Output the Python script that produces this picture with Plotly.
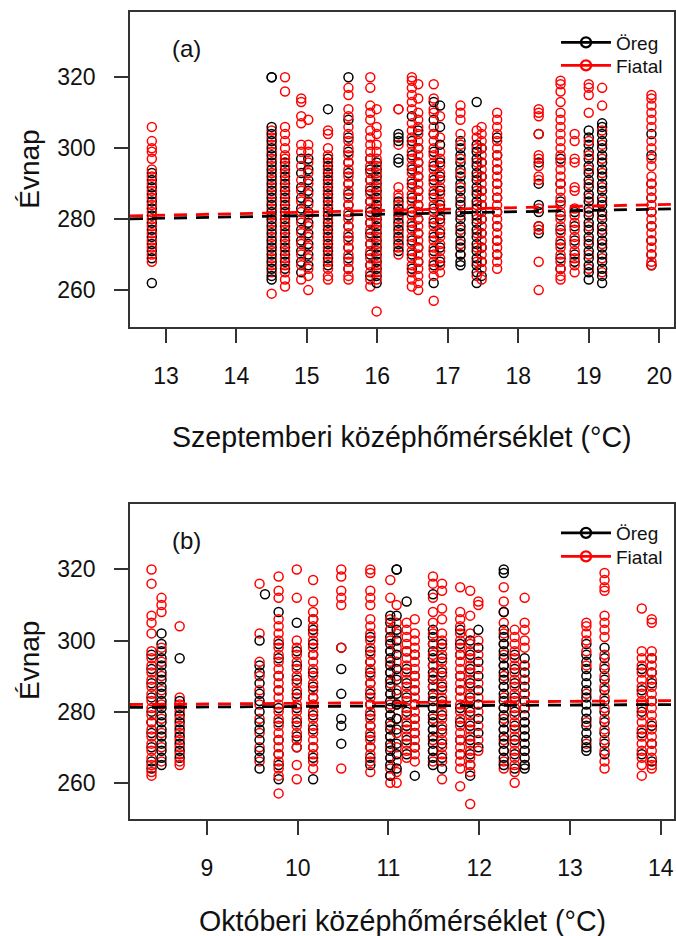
import plotly.graph_objects as go

# ---------------- DATA ----------------
# Panel (a): September mean temperature columns
A_X = [12.80, 14.50, 14.69, 14.92, 15.02, 15.30, 15.59, 15.90, 15.99, 16.30,
       16.49, 16.58, 16.80, 16.89, 17.18, 17.41, 17.48, 17.70, 18.29, 18.60,
       18.80, 19.00, 19.19, 19.89]
A_OREG = [
    [293, 291, 289, 287, 285, 283, 281, 279, 277, 275, 273, 271, 269, 262],
    [320, 320, 306, 304, 302, 300, 298, 296, 294, 292, 290, 288, 286, 284, 282, 280, 278, 276, 274, 272, 270, 268, 266, 264, 263],
    [296, 294, 292, 290, 288, 286, 284, 282, 280, 278, 276, 274, 272, 270, 268, 266],
    [297, 293, 289, 286, 283, 280, 277, 274, 271, 268, 265],
    [297, 294, 291, 288, 285, 282, 279, 276, 273, 270, 267],
    [311, 297, 295, 293, 291, 289, 287, 285, 283, 281, 279, 277, 275, 273, 271, 269, 267],
    [320, 308, 303, 299, 296, 293, 290, 287, 284, 281, 278, 275, 272, 269, 266],
    [297, 294, 291, 288, 285, 282, 279, 276, 273, 270, 267, 264],
    [296, 294, 292, 290, 288, 286, 284, 282, 280, 278, 276, 274, 272, 270, 268, 266, 264, 262],
    [304, 303, 302, 297, 296, 285, 283, 281, 279, 277, 275, 273, 271],
    [309, 302, 298, 294, 290, 286, 282, 278, 274, 270, 266],
    [305, 300, 296, 292, 288, 284, 280, 276, 272, 268],
    [313, 308, 304, 299, 295, 291, 287, 283, 279, 275, 271, 267, 262],
    [312, 306, 301, 296, 292, 288, 284, 280, 276, 272, 268],
    [302, 300, 298, 296, 294, 292, 290, 288, 286, 284, 282, 280, 278, 276, 274, 272, 270, 268, 267],
    [313, 301, 299, 297, 295, 293, 291, 289, 287, 285, 283, 281, 279, 277, 275, 273, 271, 269, 267, 265, 262],
    [300, 296, 292, 288, 284, 280, 276, 272, 268, 264],
    [303, 298, 294, 290, 286, 282, 278, 274, 270],
    [304, 296, 290, 284, 282, 278, 276],
    [297, 290, 285, 281, 277, 273, 269, 266],
    [282, 278, 274, 270, 268],
    [305, 303, 301, 299, 297, 295, 293, 291, 289, 287, 285, 283, 281, 279, 277, 275, 273, 271, 269, 267, 265, 263],
    [307, 306, 304, 302, 300, 298, 296, 294, 292, 290, 288, 286, 284, 282, 280, 278, 276, 274, 272, 270, 268, 266, 264, 262],
    [304, 298, 290, 286, 282, 278, 274, 270, 267],
]
A_FIATAL = [
    [306, 302, 300, 299, 297, 294, 292, 290, 288, 286, 284, 282, 280, 278, 276, 274, 272, 270, 268],
    [305, 303, 301, 299, 297, 295, 293, 291, 289, 287, 285, 283, 281, 279, 277, 275, 273, 271, 269, 267, 265, 259],
    [320, 316, 306, 304, 302, 300, 298, 297, 295, 293, 291, 289, 287, 285, 283, 281, 279, 277, 275, 273, 271, 269, 267, 265, 263, 261],
    [314, 313, 309, 307, 301, 299, 295, 291, 288, 285, 282, 279, 276, 273, 270, 267, 263],
    [308, 301, 299, 296, 293, 290, 287, 284, 281, 278, 275, 272, 269, 266, 264, 260],
    [305, 304, 300, 298, 296, 294, 292, 290, 288, 286, 284, 282, 280, 278, 276, 274, 272, 270, 268, 266, 264, 263],
    [317, 315, 311, 309, 306, 304, 302, 300, 298, 296, 294, 292, 290, 288, 286, 284, 282, 280, 278, 276, 274, 272, 270, 268, 266, 264, 263],
    [320, 317, 312, 310, 308, 305, 303, 301, 299, 297, 295, 293, 291, 289, 287, 285, 283, 281, 279, 277, 275, 273, 271, 269, 267, 265, 263, 261],
    [311, 306, 304, 301, 299, 297, 295, 293, 291, 289, 287, 285, 283, 281, 279, 277, 275, 273, 271, 269, 267, 265, 263, 254],
    [311, 311, 301, 289, 287, 286, 284, 282, 280, 278, 276, 274, 272, 270],
    [320, 319, 317, 315, 313, 311, 307, 305, 303, 301, 299, 297, 295, 293, 291, 289, 287, 285, 283, 281, 279, 277, 275, 273, 271, 269, 267, 265, 263, 261],
    [318, 314, 310, 308, 306, 304, 302, 300, 298, 296, 294, 292, 290, 288, 286, 284, 282, 280, 278, 276, 274, 272, 270, 268, 266, 264, 262, 260],
    [318, 314, 311, 310, 306, 304, 302, 300, 298, 296, 294, 292, 290, 288, 286, 284, 282, 280, 278, 276, 274, 272, 270, 268, 266, 264, 257],
    [309, 303, 299, 297, 295, 293, 291, 289, 287, 285, 283, 281, 279, 277, 275, 273, 271, 269, 267, 265],
    [312, 310, 308, 304, 301, 297, 293, 289, 285, 281, 277, 273, 270],
    [305, 303, 300, 296, 292, 288, 284, 280, 276, 272, 268, 264],
    [306, 304, 302, 300, 298, 296, 294, 292, 290, 288, 286, 284, 282, 280, 278, 276, 274, 272, 270, 268, 266, 263],
    [310, 308, 306, 304, 302, 300, 298, 296, 294, 292, 290, 288, 286, 284, 282, 280, 278, 276, 274, 272, 270, 268, 266],
    [311, 310, 309, 304, 298, 297, 295, 292, 291, 283, 278, 277, 268, 260],
    [319, 318, 316, 313, 310, 308, 306, 304, 302, 300, 298, 296, 294, 292, 290, 288, 286, 284, 282, 280, 278, 276, 274, 272, 270, 268, 266, 264, 263],
    [304, 302, 297, 296, 289, 288, 283, 281, 279, 277, 275, 273, 271, 269, 267, 265],
    [318, 317, 315, 310, 302, 298, 294, 290, 286, 282, 278, 274, 270, 266],
    [317, 312, 305, 301, 297, 293, 289, 285, 281, 277, 273, 269, 265],
    [315, 314, 312, 310, 308, 306, 302, 300, 297, 295, 292, 290, 288, 286, 284, 282, 280, 278, 276, 274, 272, 270, 268, 267],
]

# Panel (b): October mean temperature columns
B_X = [8.39, 8.50, 8.70, 9.58, 9.64, 9.79, 9.99, 10.17, 10.48, 10.80,
       11.02, 11.09, 11.20, 11.29, 11.49, 11.59, 11.79, 11.90, 11.99, 12.27,
       12.39, 12.50, 13.18, 13.38, 13.79, 13.90]
B_OREG = [
    [296, 292, 288, 284, 280, 277, 274, 270, 266, 264],
    [302, 299, 297, 295, 293, 291, 289, 287, 285, 283, 281, 279, 277, 275, 273, 271, 269, 267, 265],
    [295, 283, 281, 279, 277, 275, 273, 271, 269, 267],
    [300, 293, 291, 288, 285, 283, 280, 277, 275, 272, 269, 267, 264],
    [313],
    [308, 299, 295, 290, 286, 281, 277, 272, 268, 265, 261],
    [305, 297, 293, 289, 285, 281, 277, 273, 270],
    [306, 303, 299, 296, 291, 287, 284, 279, 275, 270, 267, 261],
    [298, 292, 285, 278, 276, 271],
    [301, 297, 294, 291, 288, 285, 282, 279, 276, 273, 270, 267, 265],
    [307, 305, 303, 301, 299, 297, 295, 293, 291, 289, 287, 285, 283, 281, 279, 277, 275, 273, 271, 269, 267, 265, 262],
    [320, 320, 307, 303, 300, 296, 292, 289, 285, 282, 278, 275, 271, 268, 264],
    [311, 297, 292, 288, 284, 280, 276, 272, 268],
    [296, 290, 286, 282, 278, 274, 270, 262],
    [313, 303, 301, 299, 297, 295, 293, 291, 289, 287, 285, 283, 281, 279, 277, 275, 273, 271, 269, 267, 265],
    [299, 295, 291, 287, 283, 279, 275, 271, 267, 264],
    [303, 299, 296, 290, 286, 281, 277, 272, 268],
    [300, 296, 292, 288, 284, 280, 276, 272, 268, 265, 262],
    [303, 298, 294, 290, 286, 282, 278, 274, 270],
    [320, 319, 308, 303, 301, 299, 297, 295, 293, 291, 289, 287, 285, 283, 281, 279, 277, 275, 273, 271, 269, 267, 265],
    [296, 292, 288, 284, 280, 276, 272, 268, 264],
    [295, 293, 291, 289, 287, 285, 283, 281, 279, 277, 275, 273, 271, 269, 267, 265, 264],
    [299, 296, 294, 292, 290, 288, 286, 284, 282, 280, 278, 276, 274, 272, 270, 269],
    [298, 295, 292, 289, 286, 283, 280, 277, 274, 271, 268],
    [292, 286, 280, 274, 268],
    [295, 291, 288, 283, 276, 271, 266],
]
B_FIATAL = [
    [320, 316, 307, 305, 302, 297, 295, 293, 291, 289, 287, 285, 283, 281, 279, 277, 275, 273, 271, 269, 267, 265, 263, 262],
    [312, 310, 308, 298, 294, 290, 286, 282, 278, 274, 270, 266],
    [304, 284, 282, 280, 278, 276, 274, 272, 270, 268, 266, 265],
    [316, 302, 294, 290, 286, 282, 278, 274, 270, 266],
    [],
    [318, 314, 312, 306, 304, 302, 300, 298, 296, 294, 292, 290, 288, 286, 284, 282, 280, 278, 276, 274, 272, 270, 268, 266, 264, 262, 257],
    [320, 312, 300, 298, 296, 294, 292, 290, 288, 286, 284, 282, 280, 278, 276, 274, 272, 270, 265, 261],
    [317, 311, 308, 306, 304, 302, 300, 298, 296, 294, 292, 290, 288, 286, 284, 282, 280, 278, 276, 274, 272, 270, 268, 266, 264],
    [320, 318, 314, 312, 310, 298, 264],
    [320, 319, 314, 312, 310, 306, 304, 302, 300, 298, 296, 294, 292, 290, 288, 286, 284, 282, 280, 278, 276, 274, 272, 270, 268, 266, 263],
    [317, 312, 306, 303, 300, 297, 294, 291, 288, 285, 282, 279, 276, 273, 270, 267, 264, 262, 260],
    [310, 305, 302, 298, 294, 290, 286, 282, 278, 274, 270, 266, 263, 260],
    [305, 303, 301, 299, 297, 295, 293, 291, 289, 287, 285, 283, 281, 279, 277, 275, 273, 271, 269, 267],
    [306, 302, 300, 298, 296, 294, 292, 290, 288, 286, 284, 282, 280, 278, 276, 274, 272, 270, 268, 266],
    [318, 316, 312, 308, 305, 302, 299, 296, 293, 290, 287, 284, 281, 278, 275, 272, 269, 266],
    [316, 314, 309, 306, 302, 300, 298, 296, 294, 292, 290, 288, 286, 284, 282, 280, 278, 276, 274, 272, 270, 268, 266, 261],
    [315, 308, 306, 304, 302, 300, 298, 296, 294, 292, 290, 288, 286, 284, 282, 280, 278, 276, 274, 272, 270, 268, 266, 264, 259],
    [314, 307, 302, 299, 297, 295, 293, 291, 289, 287, 285, 283, 281, 279, 277, 275, 273, 271, 269, 267, 265, 263, 254],
    [311, 310, 300, 296, 292, 288, 284, 280, 276, 272, 269],
    [315, 311, 308, 305, 302, 299, 296, 293, 290, 287, 284, 281, 278, 275, 272, 269, 266, 264],
    [303, 301, 299, 297, 295, 293, 291, 289, 287, 285, 283, 281, 279, 277, 275, 273, 271, 269, 267, 265, 263, 260],
    [312, 305, 303, 300, 298, 293, 289, 285, 281, 277, 273, 269, 265],
    [305, 304, 302, 300, 297, 293, 285, 277, 271],
    [319, 317, 315, 314, 307, 305, 303, 301, 296, 293, 290, 287, 284, 281, 278, 275, 272, 269, 266, 264],
    [309, 297, 295, 293, 291, 289, 287, 285, 283, 281, 279, 277, 275, 273, 271, 269, 267, 265, 262],
    [306, 305, 297, 295, 293, 291, 289, 287, 285, 283, 281, 279, 277, 275, 273, 271, 269, 267, 265, 264],
]

# Fitted (dashed) regression lines: endpoints at the plot edges
A_LINE_X = [12.49, 20.21]
A_OREG_LINE = [280.1, 282.9]
A_FIATAL_LINE = [280.9, 284.2]
B_LINE_X = [8.153, 14.145]
B_OREG_LINE = [281.2, 282.0]
B_FIATAL_LINE = [282.0, 283.1]

SERIES = ["Öreg", "Fiatal"]
COLORS = ["black", "#ff0000"]
Y_TICKS = [260, 280, 300, 320]
A_X_TICKS = [13, 14, 15, 16, 17, 18, 19, 20]
B_X_TICKS = [9, 10, 11, 12, 13, 14]
A_TITLE = "Szeptemberi középhőmérséklet (°C)"
B_TITLE = "Októberi középhőmérséklet (°C)"
Y_TITLE = "Évnap"
PANEL_LABELS = ["(a)", "(b)"]

FONT = "Liberation Sans, Arial, sans-serif"


def interleave(xs, oreg, fiatal):
    """Combine both groups column by column, alternating, like R's mixed order."""
    px, py, pc = [], [], []
    for x, o, f in zip(xs, oreg, fiatal):
        n = max(len(o), len(f))
        for i in range(n):
            if i < len(f):
                px.append(x); py.append(f[i]); pc.append(COLORS[1])
            if i < len(o):
                px.append(x); py.append(o[i]); pc.append(COLORS[0])
    return px, py, pc


fig = go.Figure()

# legend ids and the vertical pixel position (from top) of each legend entry
panels = [
    ("x", "y", ("legend", "legend2"), (42.5, 65.5),
     A_X, A_OREG, A_FIATAL, A_LINE_X, A_OREG_LINE, A_FIATAL_LINE),
    ("x2", "y2", ("legend3", "legend4"), (533, 556.5),
     B_X, B_OREG, B_FIATAL, B_LINE_X, B_OREG_LINE, B_FIATAL_LINE),
]

legend_layout = {}
for xa, ya, lgs, lys, xs, oreg, fiatal, lx, lo, lf in panels:
    px, py, pc = interleave(xs, oreg, fiatal)
    fig.add_trace(go.Scatter(
        x=px, y=py, mode="markers", xaxis=xa, yaxis=ya, showlegend=False,
        marker=dict(symbol="circle-open", size=9, color=pc, line=dict(width=1.5)),
        hoverinfo="skip"))
    for ly, col in ((lo, COLORS[0]), (lf, COLORS[1])):
        fig.add_trace(go.Scatter(
            x=lx, y=ly, mode="lines", xaxis=xa, yaxis=ya, showlegend=False,
            line=dict(color=col, width=2.8, dash="13px,9px"), hoverinfo="skip"))
    for name, col, lg, ypix in zip(SERIES, COLORS, lgs, lys):
        fig.add_trace(go.Scatter(
            x=[None], y=[None], mode="lines+markers", name=name, xaxis=xa, yaxis=ya,
            legend=lg, showlegend=True,
            line=dict(color=col, width=2.6),
            marker=dict(symbol="circle-open", size=10, color=col, line=dict(width=2.4))))
        legend_layout[lg] = dict(
            x=556 / 676, y=(936 - ypix) / 936, xanchor="left", yanchor="middle",
            bgcolor="rgba(0,0,0,0)", font=dict(family=FONT, size=19, color="#111111"),
            itemwidth=50)

axis_common = dict(
    showline=True, mirror=True, linecolor="#333333", linewidth=1.5,
    ticks="outside", ticklen=14, tickwidth=1.5, tickcolor="#333333",
    showgrid=False, zeroline=False,
    tickfont=dict(family=FONT, size=23, color="#111111"),
)

fig.update_layout(
    width=676, height=936,
    margin=dict(l=0, r=0, t=0, b=0),
    paper_bgcolor="white", plot_bgcolor="white",
    font=dict(family=FONT, color="#111111"),
    xaxis=dict(domain=[130 / 676, 674 / 676], range=[12.49, 20.21],
               tickvals=A_X_TICKS, anchor="y", ticklabelstandoff=14, **axis_common),
    yaxis=dict(domain=[(936 - 327) / 936, (936 - 12.3) / 936], range=[249.6, 338.3],
               tickvals=Y_TICKS, anchor="x", ticklabelstandoff=14, **axis_common),
    xaxis2=dict(domain=[130 / 676, 674 / 676], range=[8.153, 14.145],
                tickvals=B_X_TICKS, anchor="y2", ticklabelstandoff=14, **axis_common),
    yaxis2=dict(domain=[(936 - 819) / 936, (936 - 504) / 936], range=[249.8, 338.4],
                tickvals=Y_TICKS, anchor="x2", ticklabelstandoff=14, **axis_common),
    **legend_layout,
)

annos = [
    dict(text=A_TITLE, x=402 / 676, y=(936 - 436.5) / 936, size=28.6),
    dict(text=B_TITLE, x=402 / 676, y=(936 - 921) / 936, size=28.6),
    dict(text=PANEL_LABELS[0], x=186 / 676, y=(936 - 48) / 936, size=24),
    dict(text=PANEL_LABELS[1], x=186 / 676, y=(936 - 540) / 936, size=24),
]
for a in annos:
    fig.add_annotation(text=a["text"], x=a["x"], y=a["y"], xref="paper", yref="paper",
                       xanchor="center", yanchor="middle", showarrow=False,
                       font=dict(family=FONT, size=a["size"], color="#111111"))
for yc in (169.7, 661):
    fig.add_annotation(text=Y_TITLE, x=30 / 676, y=(936 - yc) / 936, xref="paper", yref="paper",
                       xanchor="center", yanchor="middle", showarrow=False, textangle=-90,
                       font=dict(family=FONT, size=28, color="#111111"))

fig.write_html("out.html")
